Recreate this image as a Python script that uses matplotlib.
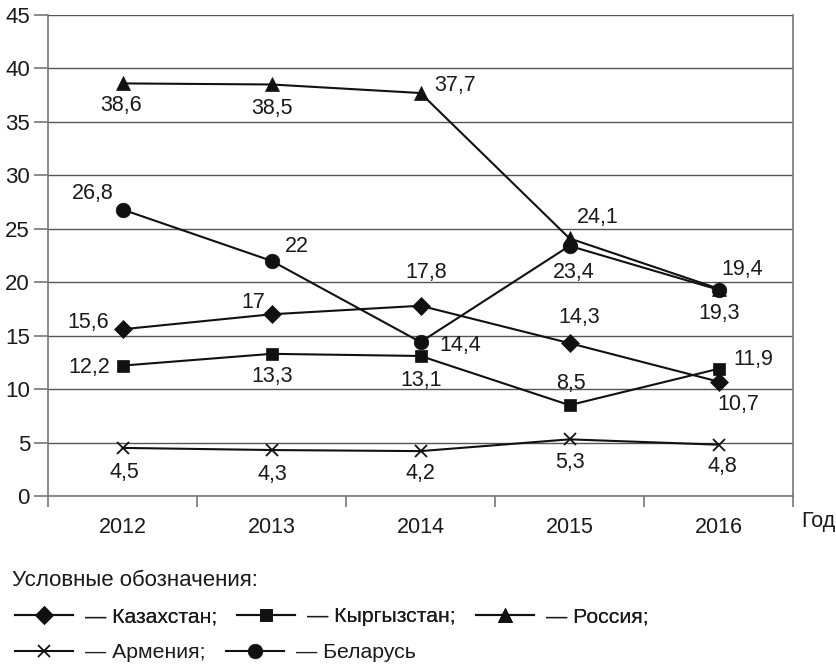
import matplotlib
matplotlib.use("Agg")
import matplotlib.pyplot as plt

plt.rcParams['font.family'] = ['Liberation Sans', 'DejaVu Sans']

years = ["2012", "2013", "2014", "2015", "2016"]
kazakhstan = [15.6, 17, 17.8, 14.3, 10.7]
kyrgyzstan = [12.2, 13.3, 13.1, 8.5, 11.9]
russia = [38.6, 38.5, 37.7, 24.1, 19.4]
armenia = [4.5, 4.3, 4.2, 5.3, 4.8]
belarus = [26.8, 22, 14.4, 23.4, 19.3]
yticks = list(range(0, 50, 5))

names = ["Казахстан", "Кыргызстан", "Россия", "Армения", "Беларусь"]

# label offsets in pixels (dx, dy up)
off_kaz = [(-34, 7), (-18, 12), (6, 33), (10, 26), (20, -23)]
off_kyr = [(-33, -2), (1, -23), (1, -25), (1, 22), (35, 9)]
off_rus = [(-1, -22), (0, -24), (35, 8), (28, 21), (24, 19)]
off_arm = [(2, -25), (1, -24), (0, -22), (0, -23), (4, -22)]
off_bel = [(-30, 16), (25, 14), (40, -3), (4, -27), (1, -24)]

W, H = 836, 666
fig = plt.figure(figsize=(W / 100, H / 100), dpi=100)
x0, x1, yt, yb = 48, 793, 15, 496
ax = fig.add_axes([x0 / W, 1 - yb / H, (x1 - x0) / W, (yb - yt) / H])

FS = 15.5
TXT = '#1a1a1a'
xs = list(range(len(years)))

styles = [
    (kazakhstan, 'D', 9.5, off_kaz),
    (kyrgyzstan, 's', 8.0, off_kyr),
    (russia, '^', 10.5, off_rus),
    (armenia, 'x', 8.5, off_arm),
    (belarus, 'o', 10.5, off_bel),
]
handles = []
for (vals, mk, ms, offs), nm in zip(styles, names):
    ln, = ax.plot(xs, vals, color='#111111', lw=1.5, marker=mk, ms=ms,
                  mfc='#111111', mec='#111111', mew=1.3 if mk == 'x' else 0.5,
                  zorder=3, label=nm)
    handles.append(ln)
    for xi, v, (dx, dy) in zip(xs, vals, offs):
        ax.annotate(f"{v:g}".replace('.', ','), (xi, v), xytext=(dx, dy),
                    textcoords='offset pixels', ha='center', va='center',
                    fontsize=FS, color=TXT, zorder=4)

ax.set_xlim(-0.5, len(years) - 0.5)
ax.set_ylim(0, 45)
ax.set_yticks(yticks)
ax.set_yticklabels([str(t) for t in yticks])
ax.set_xticks(xs)
ax.set_xticklabels(years)
ax.set_xticks([i - 0.5 for i in range(len(years) + 1)], minor=True)
ax.tick_params(axis='x', which='major', length=0, pad=15, labelsize=FS, labelcolor=TXT)
ax.tick_params(axis='x', which='minor', length=8, width=1.2, color='#777777', direction='out')
ax.tick_params(axis='y', length=10, width=1.2, color='#777777', labelsize=16, labelcolor=TXT, pad=3)
ax.grid(axis='y', color='#555555', lw=1.0, zorder=1)
for s in ['left', 'right', 'bottom']:
    ax.spines[s].set_color('#777777')
    ax.spines[s].set_linewidth(1.2)
ax.spines['top'].set_visible(False)

fig.text(801 / W, 1 - 522 / H, "Год", fontsize=FS, color=TXT, ha='left', va='center')
fig.text(12 / W, 1 - 580 / H, "Условные обозначения:", fontsize=16, color=TXT,
         ha='left', va='center')

LFS = 15.3
em = LFS * 100 / 72
leg_kw = dict(frameon=False, loc='center left', borderpad=0, borderaxespad=0,
              handlelength=58 / em, handletextpad=12 / em, columnspacing=20 / em,
              fontsize=LFS, labelcolor=TXT, numpoints=1)
row1 = [handles[0], handles[1], handles[2]]
row2 = [handles[3], handles[4]]
l1 = fig.legend(row1, ["— " + names[0] + ";", "— " + names[1] + ";", "— " + names[2] + ";"],
                ncol=3, bbox_to_anchor=(15 / W, 1 - 617 / H), **leg_kw)
fig.add_artist(l1)
l2 = fig.legend(row2, ["— " + names[3] + ";", "— " + names[4]],
                ncol=2, bbox_to_anchor=(15 / W, 1 - 653 / H), **leg_kw)

fig.savefig("out.png", dpi=100, facecolor='white')
